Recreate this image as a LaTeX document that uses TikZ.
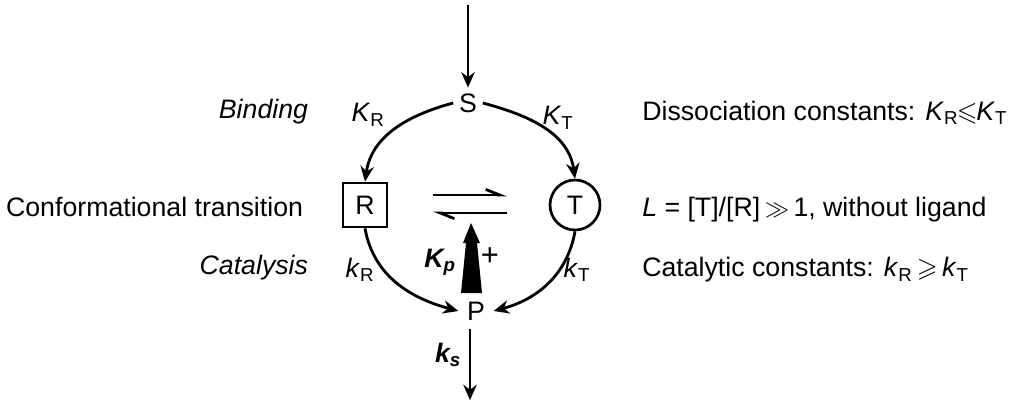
\documentclass[tikz,border=0pt]{standalone}
\usepackage{amsmath}
\usepackage{amssymb}
\usepackage{fontspec}
\setmainfont{Liberation Sans}
\usepackage{tikz}
\usetikzlibrary{calc}
\usetikzlibrary{arrows.meta}
\usetikzlibrary{shapes.geometric}
\usetikzlibrary{positioning}
\usepackage{xcolor}

\newcommand{\cst}[2]{\textit{#1}\textsubscript{#2}}

\tikzset{
    flow/.style={-{Stealth[length=11pt,width=9.5pt]}, line width=2pt},
    harp/.style={-{Straight Barb[left,length=10pt,width=8pt]}, line width=2pt},
    species/.style={inner sep=4pt, font=\fontsize{19}{23}\selectfont},
    lbl/.style={font=\fontsize{19}{23}\selectfont}
}

\begin{document}
\begin{tikzpicture}
    \useasboundingbox (0,0) rectangle (25.325,10.125);

    % 1. Place the species S, R, T and P
    \node[species] (S) at (11.7,7.55) {S};
    \node[species, draw, line width=1.9pt, minimum size=1.1cm] (R) at (9.125,5.0) {R};
    \node[species, draw, circle, line width=1.9pt, minimum size=1.25cm] (T) at (14.375,5.0) {T};
    \node[species, inner sep=6pt] (P) at (11.9,2.35) {P};

    % 2. Free ends of the entry and exit arrows
    \coordinate (in) at (11.7,10.0);
    \coordinate (out) at (11.75,0.12);

    % 3. Binding and catalysis steps
    \draw[flow] (in) -- (S);
    \draw[flow] (S.west) to[out=195, in=82] (R.north);
    \draw[flow] (S.east) to[out=-15, in=98] (T.north);
    \draw[flow] (R.south) to[out=-80, in=165] (P.west);
    \draw[flow] (T.south) to[out=-100, in=15] (P.east);
    \draw[flow] (P.south -| out) -- (out);

    % 4. Conformational equilibrium R <-> T
    \draw[harp] (10.825,5.25) -- (12.675,5.25);
    \draw[harp] (12.675,4.8) -- (10.825,4.8);

    % 5. Activation by the product (filled wedge)
    \fill (11.775,4.55) -- (11.575,4.05) -- (11.65,4.05) -- (11.525,2.8)
        -- (12.05,2.8) -- (11.925,4.05) -- (12.0,4.05) -- cycle;

    % 6. Constants on the arrows
    \node[lbl] (KR) at (9.2,7.25) {\cst{K}{R}};
    \node[lbl] (KT) at (13.95,7.175) {\cst{K}{T}};
    \node[lbl] (kR) at (9.0,3.375) {\cst{k}{R}};
    \node[lbl] (kT) at (14.425,3.375) {\cst{k}{T}};
    \node[lbl] (Kp) at (11.0,3.575) {\textbf{\textit{K\textsubscript{p}}}};
    \node[lbl, font=\fontsize{22}{26}\selectfont] (plus) at (12.25,3.7) {+};
    \node[lbl] (ks) at (11.2,1.25) {\textbf{\textit{k\textsubscript{s}}}};

    % 7. Step names on the left
    \node[lbl, anchor=east] (bind) at (7.825,7.325) {\textit{Binding}};
    \node[lbl, anchor=east] (conf) at (7.7,4.95) {Conformational transition};
    \node[lbl, anchor=east] (cata) at (7.825,3.425) {\textit{Catalysis}};

    % 8. Conditions on the right
    \node[lbl, anchor=west, inner sep=0pt] (diss) at (16.05,7.3) {Dissociation constants: \cst{K}{R}\kern-1pt$\leqslant$\kern-1pt\cst{K}{T}};
    \node[lbl, anchor=west, inner sep=0pt] (allo) at (16.05,4.875) {\textit{L} = [T]/[R]\,$\gg$\,1, without ligand};
    \node[lbl, anchor=west, inner sep=0pt] (cat) at (16.05,3.375) {Catalytic constants: \cst{k}{R}\,$\geqslant$\,\cst{k}{T}};

\end{tikzpicture}
\end{document}
